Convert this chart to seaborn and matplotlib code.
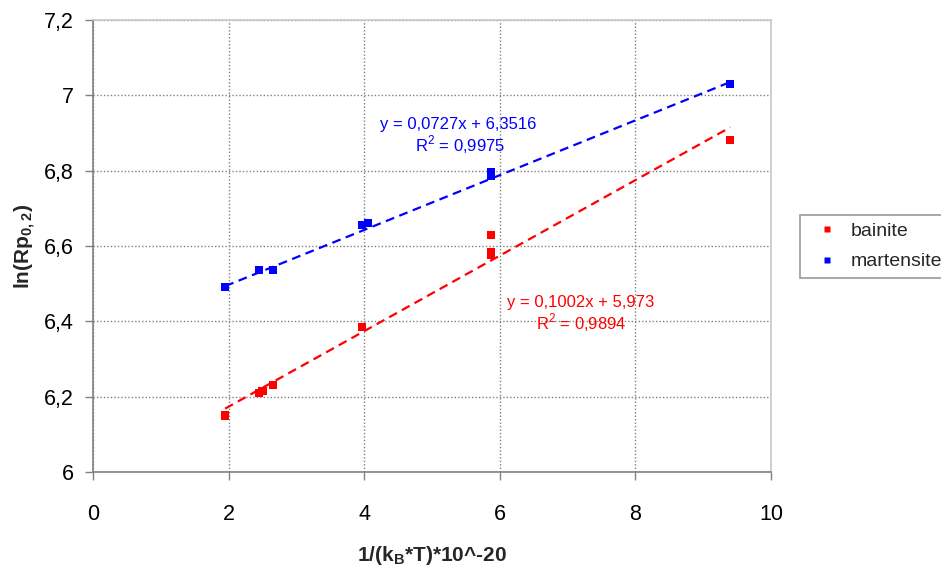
import numpy as np
import pandas as pd
import matplotlib
matplotlib.use("Agg")
import matplotlib.pyplot as plt
from matplotlib.ticker import FuncFormatter, MultipleLocator
import seaborn as sns

# values
bainite_x = [1.95, 2.45, 2.5, 2.65, 3.97, 5.87, 5.87, 5.87, 9.4]
bainite_y = [6.15, 6.21, 6.215, 6.23, 6.385, 6.63, 6.585, 6.575, 6.88]
martensite_x = [1.95, 2.45, 2.65, 3.97, 4.05, 5.87, 5.87, 9.4]
martensite_y = [6.49, 6.535, 6.537, 6.655, 6.66, 6.785, 6.795, 7.03]

# trendline coefficients as printed on the chart (slope, intercept, R^2)
bainite_fit = (0.1002, 5.973, 0.9894)
martensite_fit = (0.0727, 6.3516, 0.9975)

RED = "#ff0000"
BLUE = "#0000ff"

sns.set_theme(style="white")
plt.rcParams["font.family"] = ["Liberation Sans", "DejaVu Sans"]
plt.rcParams["mathtext.fontset"] = "custom"
plt.rcParams["mathtext.rm"] = "Liberation Sans"
plt.rcParams["mathtext.bf"] = "Liberation Sans:bold"

df = pd.concat([
    pd.DataFrame({"x": bainite_x, "y": bainite_y, "phase": "bainite"}),
    pd.DataFrame({"x": martensite_x, "y": martensite_y, "phase": "martensite"}),
])

fig = plt.figure(figsize=(9.41, 5.67), dpi=100)
ax = fig.add_axes([0.0988, 0.1675, 0.7205, 0.7975])

sns.scatterplot(data=df, x="x", y="y", hue="phase", palette={"bainite": RED, "martensite": BLUE},
                marker="s", s=34, edgecolor="none", ax=ax, zorder=3)

# dashed linear trendlines
for xs, (m, b, r2), col in [(bainite_x, bainite_fit, RED), (martensite_x, martensite_fit, BLUE)]:
    xl = np.array([min(xs), max(xs)])
    sns.lineplot(x=xl, y=m * xl + b, color=col, linestyle=(0, (4, 2.5)), linewidth=1.6,
                 ax=ax, legend=False, zorder=2)

def comma(v):
    return f"{v:.4f}".rstrip("0").replace(".", ",")

ax.text(5.38, 6.921, f"y = {comma(martensite_fit[0])}x + {comma(martensite_fit[1])}",
        color=BLUE, fontsize=12, ha="center", va="center")
ax.text(5.41, 6.868, f"R$^2$ = {comma(martensite_fit[2])}", color=BLUE, fontsize=12,
        ha="center", va="center")
ax.text(7.2, 6.451, f"y = {comma(bainite_fit[0])}x + {comma(bainite_fit[1])}",
        color=RED, fontsize=12, ha="center", va="center")
ax.text(7.2, 6.396, f"R$^2$ = {comma(bainite_fit[2])}", color=RED, fontsize=12,
        ha="center", va="center")

ax.set_xlim(0, 10)
ax.set_ylim(6, 7.2)
ax.xaxis.set_major_locator(MultipleLocator(2))
ax.yaxis.set_major_locator(MultipleLocator(0.2))
ax.xaxis.set_major_formatter(FuncFormatter(lambda v, p: f"{v:g}"))
ax.yaxis.set_major_formatter(FuncFormatter(lambda v, p: f"{v:.1f}".replace(".", ",") if abs(v - round(v)) > 1e-6 else f"{v:.0f}"))
ax.tick_params(labelsize=15.5, direction="out", length=6, width=1, color="#808080",
               labelcolor="black", left=True, bottom=True)
ax.tick_params(axis="x", pad=17)
ax.tick_params(axis="y", pad=8)
ax.grid(True, color="#808080", linestyle=(0, (1, 1.5)), linewidth=1)
for side in ["left", "bottom"]:
    ax.spines[side].set_color("#808080")
    ax.spines[side].set_linewidth(1.2)
for side in ["top", "right"]:
    ax.spines[side].set_color("#c8c8c8")
    ax.spines[side].set_linewidth(1.2)

ax.set_xlabel(r"1/(k$_\mathbf{B}$*T)*10^-20", fontsize=15, fontweight="bold", labelpad=14)
ax.set_ylabel(r"ln(Rp$_\mathbf{0,2}$)", fontsize=15, fontweight="bold", labelpad=4)

leg = ax.legend(loc="center left", bbox_to_anchor=(1.043, 0.499), frameon=True, fontsize=14,
                handletextpad=0.2, borderpad=0.4, markerscale=0.85, handlelength=2.0,
                fancybox=False, edgecolor="#808080", labelspacing=0.65, borderaxespad=0)
leg.get_frame().set_linewidth(1.2)

fig.savefig("out.png", dpi=100)
